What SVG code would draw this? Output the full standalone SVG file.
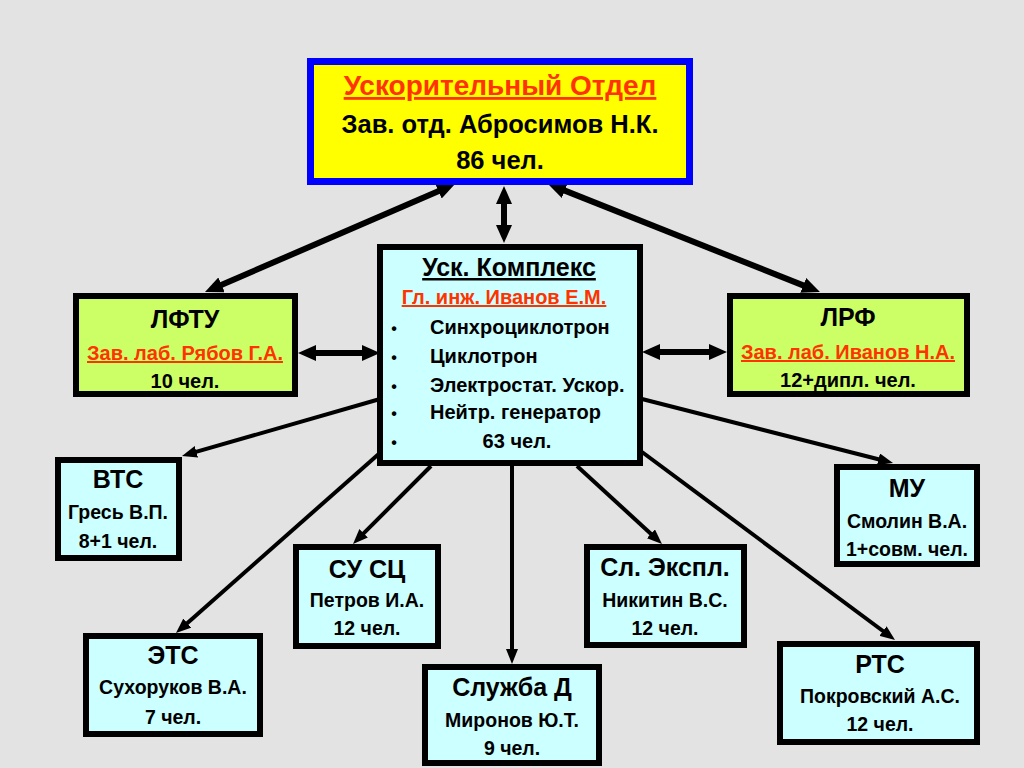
<svg xmlns="http://www.w3.org/2000/svg" width="1024" height="768" viewBox="0 0 1024 768">
<defs>
<marker id="ah" markerUnits="userSpaceOnUse" viewBox="0 0 18 16" refX="6" refY="8" markerWidth="18" markerHeight="16" orient="auto-start-reverse"><path d="M0,0 L18,8 L0,16 z" fill="#000"/></marker>
<marker id="as" markerUnits="userSpaceOnUse" viewBox="0 0 15 12" refX="5" refY="6" markerWidth="15" markerHeight="12" orient="auto"><path d="M0,0 L15,6 L0,12 z" fill="#000"/></marker>
<style>
text{font-family:"Liberation Sans",Arial,sans-serif;font-weight:bold;fill:#000;text-anchor:middle}
.t{font-size:25px}
.n{font-size:19.5px}
.g{font-size:20px}
.big{font-size:25.5px}
.h1{font-size:28px}
.red{fill:#ff3300;text-decoration:underline}
.ul{text-decoration:underline}
.l{text-anchor:start}
.bul{font-size:16px}
.box{stroke:#000;stroke-width:6}
.cy{fill:#ccffff}
.gr{fill:#ccff66}
.thick{stroke:#000;stroke-width:6;fill:none;marker-start:url(#ah);marker-end:url(#ah)}
.thin{stroke:#000;stroke-width:4;fill:none;marker-end:url(#as)}
</style>
</defs>
<rect width="1024" height="768" fill="#e3e3e3"/>
<g id="connectors">
<line class="thick" x1="216" y1="287.2" x2="444" y2="188.8"/>
<line class="thick" x1="504" y1="198" x2="504" y2="231"/>
<line class="thick" x1="559.2" y1="188.4" x2="808.8" y2="287.6"/>
<line class="thick" x1="310" y1="353" x2="368" y2="353"/>
<line class="thick" x1="654" y1="352" x2="715" y2="352"/>
<line class="thin" x1="380" y1="399" x2="191.6" y2="453.2"/>
<line class="thin" x1="381" y1="452" x2="183.5" y2="626.4"/>
<line class="thin" x1="431" y1="466" x2="360.1" y2="536.9"/>
<line class="thin" x1="512" y1="466" x2="512" y2="654"/>
<line class="thin" x1="577" y1="466" x2="654.6" y2="537.2"/>
<line class="thin" x1="642" y1="399" x2="883.3" y2="460.5"/>
<line class="thin" x1="642" y1="452" x2="887" y2="634"/>
</g>
<g id="top">
<rect x="310.5" y="61.5" width="379" height="120" fill="#ffff00" stroke="#0000ff" stroke-width="7"/>
<text class="h1 red" x="500" y="95">Ускорительный Отдел</text>
<text class="big" x="500" y="133">Зав. отд. Абросимов Н.К.</text>
<text class="big" x="500" y="169">86 чел.</text>
</g>
<g id="complex">
<rect class="box cy" x="380" y="247" width="260" height="216"/>
<text class="t ul" x="509" y="276">Уск. Комплекс</text>
<text class="g red" x="504" y="304">Гл. инж. Иванов Е.М.</text>
<text class="bul" x="394" y="334">•</text>
<text class="g l" x="430" y="334">Синхроциклотрон</text>
<text class="bul" x="394" y="363">•</text>
<text class="g l" x="430" y="363">Циклотрон</text>
<text class="bul" x="394" y="392">•</text>
<text class="g l" x="430" y="392">Электростат. Ускор.</text>
<text class="bul" x="394" y="419">•</text>
<text class="g l" x="430" y="419">Нейтр. генератор</text>
<text class="bul" x="394" y="448">•</text>
<text class="g" x="517" y="448">63 чел.</text>
</g>
<g id="lftu">
<rect class="box gr" x="76" y="296" width="219" height="98"/>
<text class="t" x="185" y="328">ЛФТУ</text>
<text class="g red" x="185" y="360">Зав. лаб. Рябов Г.А.</text>
<text class="g" x="185" y="388">10 чел.</text>
</g>
<g id="lrf">
<rect class="box gr" x="730" y="296" width="237" height="98"/>
<text class="t" x="848" y="326">ЛРФ</text>
<text class="g red" x="848" y="359">Зав. лаб. Иванов Н.А.</text>
<text class="g" x="848" y="387">12+дипл. чел.</text>
</g>
<g id="vts">
<rect class="box cy" x="58" y="460" width="121" height="98"/>
<text class="t" x="118" y="488">ВТС</text>
<text class="n" x="118" y="519">Гресь В.П.</text>
<text class="n" x="118" y="548">8+1 чел.</text>
</g>
<g id="ets">
<rect class="box cy" x="86" y="636" width="174" height="98"/>
<text class="t" x="173" y="664">ЭТС</text>
<text class="n" x="173" y="694">Сухоруков В.А.</text>
<text class="n" x="173" y="724">7 чел.</text>
</g>
<g id="susc">
<rect class="box cy" x="296" y="547" width="142" height="99"/>
<text class="t" x="367" y="578">СУ СЦ</text>
<text class="n" x="367" y="607">Петров И.А.</text>
<text class="n" x="367" y="635">12 чел.</text>
</g>
<g id="sluzhba">
<rect class="box cy" x="425" y="667" width="174" height="96"/>
<text class="t" x="512" y="696">Служба Д</text>
<text class="n" x="512" y="727">Миронов Ю.Т.</text>
<text class="n" x="512" y="755">9 чел.</text>
</g>
<g id="slexpl">
<rect class="box cy" x="587" y="547" width="157" height="98"/>
<text class="t" x="665" y="576">Сл. Экспл.</text>
<text class="n" x="665" y="607">Никитин В.С.</text>
<text class="n" x="665" y="635">12 чел.</text>
</g>
<g id="mu">
<rect class="box cy" x="837" y="467" width="140" height="97"/>
<text class="t" x="907" y="497">МУ</text>
<text class="n" x="907" y="528">Смолин В.А.</text>
<text class="n" x="907" y="556">1+совм. чел.</text>
</g>
<g id="rts">
<rect class="box cy" x="780" y="644" width="197" height="98"/>
<text class="t" x="880" y="673">РТС</text>
<text class="n" x="880" y="703">Покровский А.С.</text>
<text class="n" x="880" y="731">12 чел.</text>
</g>
</svg>
